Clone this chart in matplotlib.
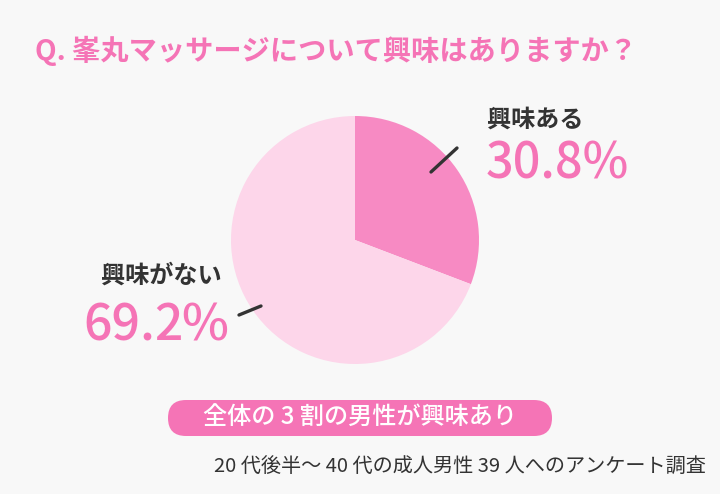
import matplotlib
matplotlib.use("Agg")
import matplotlib.pyplot as plt
from matplotlib.patches import FancyBboxPatch

plt.rcParams['font.family'] = ['Noto Sans CJK JP', 'DejaVu Sans']

labels = ["興味ある", "興味がない"]
values = [30.8, 69.2]
pct_nums = ["30.8", "69.2"]
colors = ["#F78AC3", "#FDD6EA"]
title = "Q. 峯丸マッサージについて興味はありますか？"
summary = "全体の 3 割の男性が興味あり"
note = "20 代後半～ 40 代の成人男性 39 人へのアンケート調査"

W, H = 720, 494
fig = plt.figure(figsize=(W / 100, H / 100), dpi=100)
fig.patch.set_facecolor("#F8F8F8")

# pie axes: center (355,240), radius 124 px
cx, cy, r = 355, 240, 124
ax = fig.add_axes([(cx - r) / W, 1 - (cy + r) / H, 2 * r / W, 2 * r / H])
ax.pie(values, colors=colors, startangle=90, counterclock=False,
       wedgeprops=dict(linewidth=0))
ax.set_xlim(-1, 1)
ax.set_ylim(-1, 1)
ax.set_aspect("equal")
ax.axis("off")

ov = fig.add_axes([0, 0, 1, 1])
ov.set_xlim(0, W)
ov.set_ylim(H, 0)
ov.axis("off")
ov.patch.set_alpha(0)

pink = "#F574B6"
dark = "#333333"

ov.text(35, 51, title, fontsize=20.3, color=pink, fontweight="bold", va="center", ha="left")

# leader lines
ov.plot([431, 457], [172, 148], color=dark, lw=2.4, solid_capstyle="round")
ov.plot([239, 261], [315, 306], color=dark, lw=2.4, solid_capstyle="round")

ov.text(487, 120, labels[0], fontsize=17.4, color=dark, fontweight="bold", va="center", ha="left")
ov.text(486, 178, pct_nums[0] + "%", fontsize=35, color=pink, fontweight="medium",
        va="baseline", ha="left")
ov.text(101, 276, labels[1], fontsize=17.4, color=dark, fontweight="bold", va="center", ha="left")
ov.text(83, 340, pct_nums[1], fontsize=36, color=pink, fontweight="medium", va="baseline", ha="left")
ov.text(228, 340, "%", fontsize=36, color=pink, fontweight="medium", va="baseline", ha="right")

ov.add_patch(FancyBboxPatch((168, 400), 384, 36, boxstyle="round,pad=0,rounding_size=18",
                            facecolor=pink, edgecolor="none"))
ov.text(360, 418, summary, fontsize=17.4, color="white", fontweight="medium",
        va="center", ha="center")

ov.text(706, 467, note, fontsize=14.5, color=dark, va="center", ha="right")

fig.savefig("out.png", dpi=100, facecolor=fig.get_facecolor())
